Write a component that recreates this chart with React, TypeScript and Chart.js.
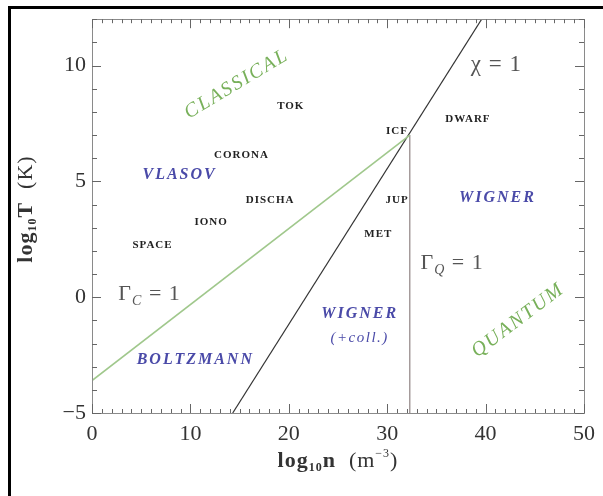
import React, { useEffect, useRef } from "react";
import { Chart, registerables } from "chart.js";

Chart.register(...registerables);

// ---- data ----
const xTicks = [0, 10, 20, 30, 40, 50];
const yTicks = [-5, 0, 5, 10];

// Γ_C = 1 boundary (log10 n, log10 T)
const gammaC_n = [0, 32.3];
const gammaC_T = [-3.6, 7.0];
// χ = 1 boundary
const chi_n = [14.3, 39.6];
const chi_T = [-5, 12];
// Γ_Q = 1 boundary
const gammaQ_n = [32.3, 32.3];
const gammaQ_T = [-5, 7.0];

// small plasma labels
const plasmaNames = ["TOK", "CORONA", "DISCHA", "IONO", "SPACE", "ICF", "DWARF", "JUP", "MET"];
const plasma_n = [20.2, 15.2, 18.1, 12.1, 6.15, 31.0, 38.2, 31.0, 29.1];
const plasma_T = [8.25, 6.15, 4.2, 3.25, 2.25, 7.15, 7.7, 4.2, 2.7];

// regime names (blue)
const regimeNames = ["VLASOV", "WIGNER", "BOLTZMANN", "WIGNER", "(+coll.)"];
const regime_n = [8.9, 41.2, 10.5, 27.2, 27.2];
const regime_T = [5.3, 4.3, -2.7, -0.7, -1.77];

// green rotated regime names
const greenNames = ["CLASSICAL", "QUANTUM"];
const green_n = [14.7, 43.3];
const green_T = [9.2, -1.0];

// boundary labels
const boundNames = ["χ = 1", "ΓC = 1", "ΓQ = 1"];
const bound_n = [41.1, 5.85, 36.6];
const bound_T = [10.05, 0.2, 1.5];

const SERIF = "'Liberation Serif', 'DejaVu Serif', serif";

const toPts = (xs: number[], ys: number[]) => xs.map((x, i) => ({ x, y: ys[i] }));

const decor = {
  id: "decor",
  beforeDraw(chart: any) {
    const ctx = chart.ctx;
    ctx.save();
    ctx.fillStyle = "#fff";
    ctx.fillRect(0, 0, chart.width, chart.height);
    // outer black frame (left & top)
    ctx.strokeStyle = "#000";
    ctx.lineWidth = 3;
    ctx.beginPath();
    ctx.moveTo(9.5, chart.height);
    ctx.lineTo(9.5, 7.5);
    ctx.lineTo(chart.width, 7.5);
    ctx.stroke();
    ctx.restore();
  },
  afterDraw(chart: any) {
    const ctx = chart.ctx;
    const a = chart.chartArea;
    const xs = chart.scales.x;
    const ys = chart.scales.y;
    ctx.save();
    // plot box
    ctx.strokeStyle = "#8a8a8a";
    ctx.lineWidth = 1;
    ctx.strokeRect(Math.round(a.left) + 0.5, Math.round(a.top) + 0.5, Math.round(a.right - a.left), Math.round(a.bottom - a.top));
    // inward ticks
    ctx.strokeStyle = "#666";
    ctx.beginPath();
    for (let v = xs.min; v <= xs.max; v += 1) {
      const px = Math.round(xs.getPixelForValue(v)) + 0.5;
      const len = v % 10 === 0 ? 9 : 4;
      ctx.moveTo(px, a.bottom);
      ctx.lineTo(px, a.bottom - len);
      ctx.moveTo(px, a.top);
      ctx.lineTo(px, a.top + len);
    }
    for (let v = ys.min; v <= ys.max; v += 1) {
      const py = Math.round(ys.getPixelForValue(v)) + 0.5;
      const len = v % 5 === 0 ? 9 : 5;
      ctx.moveTo(a.left, py);
      ctx.lineTo(a.left + len, py);
      ctx.moveTo(a.right, py);
      ctx.lineTo(a.right - len, py);
    }
    ctx.stroke();

    ctx.textAlign = "center";
    ctx.textBaseline = "middle";
    // plasma labels
    ctx.fillStyle = "#222";
    ctx.font = `bold 11px ${SERIF}`;
    (ctx as any).letterSpacing = "1px";
    plasmaNames.forEach((t, i) => {
      ctx.fillText(t, xs.getPixelForValue(plasma_n[i]), ys.getPixelForValue(plasma_T[i]));
    });
    // regime labels
    ctx.fillStyle = "#4a4aa8";
    regimeNames.forEach((t, i) => {
      if (t.startsWith("(")) {
        ctx.font = `italic 15px ${SERIF}`;
        (ctx as any).letterSpacing = "1.5px";
      } else {
        ctx.font = `bold italic 16px ${SERIF}`;
        (ctx as any).letterSpacing = "2px";
      }
      ctx.fillText(t, xs.getPixelForValue(regime_n[i]), ys.getPixelForValue(regime_T[i]));
    });
    // green rotated labels
    ctx.fillStyle = "#78b05a";
    ctx.font = `italic 20px ${SERIF}`;
    (ctx as any).letterSpacing = "2px";
    const angles = [-31, -37];
    greenNames.forEach((t, i) => {
      ctx.save();
      ctx.translate(xs.getPixelForValue(green_n[i]), ys.getPixelForValue(green_T[i]));
      ctx.rotate((angles[i] * Math.PI) / 180);
      ctx.fillText(t, 0, 0);
      ctx.restore();
    });
    // boundary labels with subscripts
    (ctx as any).letterSpacing = "1px";
    ctx.fillStyle = "#555";
    ctx.textAlign = "left";
    ctx.textBaseline = "alphabetic";
    boundNames.forEach((t, i) => {
      const cx = xs.getPixelForValue(bound_n[i]);
      const cy = ys.getPixelForValue(bound_T[i]) + 7;
      let parts: [string, number, number, string][];
      if (t.startsWith("Γ")) {
        parts = [
          ["Γ", 22, 0, ""],
          [t.charAt(1), 14, 5, "italic "],
          [" = 1", 22, 0, ""],
        ];
      } else {
        parts = [[t, 23, 0, ""]];
      }
      let w = 0;
      parts.forEach(([s, sz, , st]) => {
        ctx.font = `${st}${sz}px ${SERIF}`;
        w += ctx.measureText(s).width;
      });
      let x = cx - w / 2;
      parts.forEach(([s, sz, dy, st]) => {
        ctx.font = `${st}${sz}px ${SERIF}`;
        ctx.fillText(s, x, cy + dy);
        x += ctx.measureText(s).width;
      });
    });

    // axis titles
    ctx.fillStyle = "#333";
    (ctx as any).letterSpacing = "1px";
    const drawParts = (parts: [string, string, number][], cx: number, cy: number) => {
      let w = 0;
      parts.forEach(([s, f]) => {
        ctx.font = f;
        w += ctx.measureText(s).width;
      });
      let x = cx - w / 2;
      parts.forEach(([s, f, dy]) => {
        ctx.font = f;
        ctx.fillText(s, x, cy + dy);
        x += ctx.measureText(s).width;
      });
    };
    const B = `bold 22px ${SERIF}`;
    const Bs = `bold 12px ${SERIF}`;
    const R = `22px ${SERIF}`;
    const Rs = `12px ${SERIF}`;
    drawParts(
      [
        ["log", B, 0],
        ["10", Bs, 4],
        ["n", B, 0],
        ["  (m", R, 0],
        ["−3", Rs, -10],
        [")", R, 0],
      ],
      (a.left + a.right) / 2,
      467
    );
    ctx.save();
    ctx.translate(32, 209);
    ctx.rotate(-Math.PI / 2);
    drawParts(
      [
        ["log", B, 0],
        ["10", Bs, 4],
        ["T", B, 0],
        ["  (K)", R, 0],
      ],
      0,
      0
    );
    ctx.restore();
    ctx.restore();
  },
};

export default function App() {
  const ref = useRef<HTMLCanvasElement | null>(null);
  useEffect(() => {
    if (!ref.current) return;
    const tickFont = { family: SERIF, size: 22 };
    const chart = new Chart(ref.current, {
      type: "scatter",
      data: {
        datasets: [
          {
            label: "Γ_C = 1",
            data: toPts(gammaC_n, gammaC_T),
            showLine: true,
            borderColor: "rgb(160,200,140)",
            borderWidth: 1.6,
            pointRadius: 0,
          },
          {
            label: "χ = 1",
            data: toPts(chi_n, chi_T),
            showLine: true,
            borderColor: "#333",
            borderWidth: 1.2,
            pointRadius: 0,
          },
          {
            label: "Γ_Q = 1",
            data: toPts(gammaQ_n, gammaQ_T),
            showLine: true,
            borderColor: "#7a6a6a",
            borderWidth: 1,
            pointRadius: 0,
          },
        ],
      },
      options: {
        animation: false,
        responsive: false,
        devicePixelRatio: 1,
        layout: { padding: { left: 0, top: 17, right: 15, bottom: 0 } },
        plugins: { legend: { display: false }, tooltip: { enabled: false } },
        scales: {
          x: {
            type: "linear",
            min: 0,
            max: 50,
            afterBuildTicks: (s: any) => {
              s.ticks = xTicks.map((v) => ({ value: v }));
            },
            afterFit: (s: any) => {
              s.height = 83;
            },
            grid: { display: false, drawTicks: false },
            border: { display: false },
            ticks: { font: tickFont, color: "#333", padding: 8, maxRotation: 0 },
          },
          y: {
            type: "linear",
            min: -5,
            max: 12,
            afterBuildTicks: (s: any) => {
              s.ticks = yTicks.map((v) => ({ value: v }));
            },
            afterFit: (s: any) => {
              s.width = 92;
            },
            grid: { display: false, drawTicks: false },
            border: { display: false },
            ticks: {
              font: tickFont,
              color: "#333",
              padding: 6,
              callback: (v: any) => String(v).replace("-", "−"),
            },
          },
        },
      },
      plugins: [decor],
    });
    return () => chart.destroy();
  }, []);
  return (
    <div style={{ position: "absolute", left: 0, top: 0, width: 603, height: 496, background: "#fff" }}>
      <canvas ref={ref} width={603} height={496} style={{ width: 603, height: 496, display: "block" }} />
    </div>
  );
}
